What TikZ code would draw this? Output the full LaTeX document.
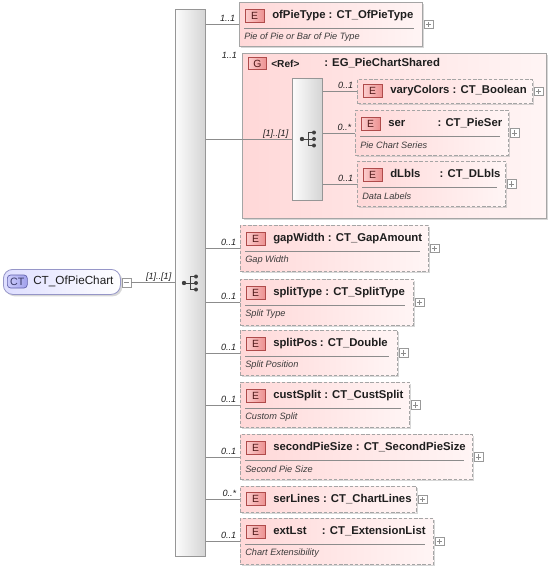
\documentclass[tikz,border=0pt]{standalone}
\usepackage{fontspec}
\setmainfont{Liberation Sans}
\usetikzlibrary{shadows}
\definecolor{pinkL}{RGB}{255,216,216}
\definecolor{pinkR}{RGB}{255,245,245}
\definecolor{boxgray}{RGB}{165,165,165}
\definecolor{barL}{RGB}{252,252,252}
\definecolor{barR}{RGB}{212,212,212}
\definecolor{bargray}{RGB}{150,150,150}
\definecolor{badgeL}{RGB}{252,205,205}
\definecolor{badgeR}{RGB}{236,145,145}
\definecolor{badgeD}{RGB}{175,75,75}
\definecolor{badgeT}{RGB}{80,25,25}
\definecolor{ctL}{RGB}{205,205,252}
\definecolor{ctR}{RGB}{160,160,235}
\definecolor{ctD}{RGB}{95,95,170}
\definecolor{rootL}{RGB}{222,222,255}
\definecolor{rootD}{RGB}{150,150,200}
\definecolor{conngray}{RGB}{140,140,140}
\definecolor{txt}{RGB}{30,30,30}
\definecolor{desctxt}{RGB}{60,60,60}
\tikzset{
  x=0.75pt, y=-0.75pt,
  shadowed/.style={drop shadow={shadow xshift=1.4pt, shadow yshift=-1.4pt, fill=black!35, opacity=0.45}},
  elembox/.style={draw=boxgray, line width=0.6pt, left color=pinkL, right color=pinkR, inner sep=0pt, shadowed},
  optional/.style={dash pattern=on 2.6pt off 1.3pt},
  groupbox/.style={draw=boxgray, line width=0.6pt, left color=pinkL, right color=pinkR, inner sep=0pt, shadowed},
  seqbar/.style={draw=bargray, line width=0.6pt, left color=barL, right color=barR, inner sep=0pt},
  badge/.style={draw=badgeD, line width=0.5pt, left color=badgeL, right color=badgeR, text=badgeT,
    font=\fontsize{7.8}{8}\selectfont, inner sep=0pt, minimum width=14pt, minimum height=9.75pt},
  ctbadge/.style={draw=ctD, line width=0.5pt, left color=ctL, right color=ctR, text=ctD!60!black,
    font=\fontsize{8}{9}\selectfont, inner sep=0pt, minimum width=15pt, minimum height=9.75pt, rounded corners=2.5pt},
  rootbox/.style={draw=rootD, line width=0.6pt, left color=rootL, right color=white, inner sep=0pt, rounded corners=7pt, shadowed},
  title/.style={font=\bfseries\fontsize{8.5}{9}\selectfont, text=txt, inner sep=0pt},
  desc/.style={font=\itshape\fontsize{6.9}{7}\selectfont, text=desctxt, inner sep=0pt},
  mult/.style={font=\itshape\fontsize{6.8}{7}\selectfont, text=txt, inner sep=0pt},
  divider/.style={draw=black!45, line width=0.5pt},
  conn/.style={draw=conngray, line width=0.6pt},
  plusbox/.style={draw=black!40, fill=white, line width=0.4pt, minimum size=6.5pt, inner sep=0pt},
  plussign/.style={draw=black!45, line width=0.4pt},
  seqicon/.style={draw=black!75, line width=0.6pt},
}
\newcommand\PlusAt[1]{%
  \node[plusbox] (#1-p) at ([xshift=4.3pt]#1.east) {};
  \draw[plussign] (#1-p.center) +(-2.6,0) -- +(2.6,0) (#1-p.center) +(0,-2.6) -- +(0,2.6);
}
% #1 id, #2 x1, #3 y1, #4 x2, #5 y2, #6 style, #7 title, #8 desc
\newcommand\ElemD[8]{%
  \node[elembox,#6,anchor=north west,minimum width={(#4-#2)*0.75pt},minimum height={(#5-#3)*0.75pt}] (#1) at (#2,#3) {};
  \node[badge,anchor=west] (#1-b) at (#2+6,#3+13.5) {E};
  \node[title,anchor=west] (#1-t) at (#2+33,#3+13.5) {#7};
  \draw[divider] (#2+5,#3+26) -- (#4-8,#3+26);
  \node[desc,anchor=west] (#1-d) at (#2+5,#3+35.5) {#8};
  \PlusAt{#1}
}
\newcommand\ElemN[7]{%
  \node[elembox,#6,anchor=north west,minimum width={(#4-#2)*0.75pt},minimum height={(#5-#3)*0.75pt}] (#1) at (#2,#3) {};
  \node[badge,anchor=west] (#1-b) at (#2+6,#3/2+#5/2) {E};
  \node[title,anchor=west] (#1-t) at (#2+33,#3/2+#5/2) {#7};
  \PlusAt{#1}
}
\newcommand\SeqIcon[2]{%
  \draw[seqicon] (#1,#2) +(-6,0) -- +(0,0) +(0,-6.5) -- +(0,6.5)
     +(0,-6.5) -- +(6,-6.5) +(0,0) -- +(6,0) +(0,6.5) -- +(6,6.5);
  \fill[black!75] (#1,#2) +(-6,0) circle (2.2) +(6,-6.5) circle (2) +(6,0) circle (2) +(6,6.5) circle (2);
}
\newcommand\MultLabel[2]{%
  \node[mult,anchor=base east] at ([xshift=-2.6pt,yshift=2pt]#1.west) {#2};
}
\begin{document}
\begin{tikzpicture}
\useasboundingbox (0,0) rectangle (552,569);

% root
\node[rootbox,anchor=north west,minimum width={117*0.75pt},minimum height={25*0.75pt}] (root) at (3,269) {};
\node[ctbadge,anchor=west] (root-b) at (7,281.5) {CT};
\node[anchor=west,inner sep=0pt,text=txt,font=\fontsize{8.8}{10}\selectfont] (root-t) at (33,281.5) {CT\_OfPieChart};
\node[plusbox] (root-p) at (126.5,282.5) {};
\draw[plussign] (root-p.center) +(-2.6,0) -- +(2.6,0);

% main sequence bar
\node[seqbar,anchor=north west,minimum width={30*0.75pt},minimum height={547*0.75pt}] (mainbar) at (175,9) {};
\SeqIcon{190}{283}
\draw[conn] (root-p.east) -- (root-p.east -| mainbar.west);
\node[mult,anchor=base east] at ([xshift=-2.6pt,yshift=2pt]root-p.east -| mainbar.west) {[1]..[1]};

% ofPieType
\ElemD{ofPieType}{239}{2}{422}{46}{}{ofPieType : CT\_OfPieType}{Pie of Pie or Bar of Pie Type}
\draw[conn] (ofPieType.west -| mainbar.east) -- (ofPieType.west);
\MultLabel{ofPieType}{1..1}

% group
\node[groupbox,anchor=north west,minimum width={304*0.75pt},minimum height={165*0.75pt}] (group) at (242,53) {};
\node[badge,anchor=west,minimum width=13.5pt,minimum height=9pt] (group-b) at (248,63.5) {G};
\node[title,anchor=west,font=\bfseries\fontsize{7.6}{9}\selectfont] (group-r) at (271,63.5) {<Ref>};
\node[title,anchor=west] (group-t) at (324,63.5) {: EG\_PieChartShared};
\node[mult,anchor=base east] at ([xshift=-3.6pt,yshift=-3.8pt]group.north west) {1..1};
\node[seqbar,anchor=north west,minimum width={30*0.75pt},minimum height={122*0.75pt}] (innerbar) at (292,78) {};
\SeqIcon{308}{139}
\draw[conn] (innerbar.west -| mainbar.east) -- (innerbar.west);
\MultLabel{innerbar}{[1]..[1]}

\ElemN{varyColors}{357}{79}{532}{103}{optional}{varyColors : CT\_Boolean}
\draw[conn] (varyColors.west -| innerbar.east) -- (varyColors.west);
\MultLabel{varyColors}{0..1}

\ElemD{ser}{355}{110}{508}{155}{optional}{\makebox[37pt][l]{ser}: CT\_PieSer}{Pie Chart Series}
\draw[conn] (ser.west -| innerbar.east) -- (ser.west);
\MultLabel{ser}{0..*}

\ElemD{dLbls}{357}{161}{505}{206}{optional}{\makebox[37pt][l]{dLbls}: CT\_DLbls}{Data Labels}
\draw[conn] (dLbls.west -| innerbar.east) -- (dLbls.west);
\MultLabel{dLbls}{0..1}

% remaining elements
\ElemD{gapWidth}{240}{225}{428}{271}{optional}{gapWidth : CT\_GapAmount}{Gap Width}
\draw[conn] (gapWidth.west -| mainbar.east) -- (gapWidth.west);
\MultLabel{gapWidth}{0..1}

\ElemD{splitType}{240}{279}{413}{325}{optional}{splitType : CT\_SplitType}{Split Type}
\draw[conn] (splitType.west -| mainbar.east) -- (splitType.west);
\MultLabel{splitType}{0..1}

\ElemD{splitPos}{240}{330}{397}{375}{optional}{\makebox[35pt][l]{splitPos}: CT\_Double}{Split Position}
\draw[conn] (splitPos.west -| mainbar.east) -- (splitPos.west);
\MultLabel{splitPos}{0..1}

\ElemD{custSplit}{240}{382}{409}{427}{optional}{custSplit : CT\_CustSplit}{Custom Split}
\draw[conn] (custSplit.west -| mainbar.east) -- (custSplit.west);
\MultLabel{custSplit}{0..1}

\ElemD{secondPieSize}{240}{434}{472}{479}{optional}{secondPieSize : CT\_SecondPieSize}{Second Pie Size}
\draw[conn] (secondPieSize.west -| mainbar.east) -- (secondPieSize.west);
\MultLabel{secondPieSize}{0..1}

\ElemN{serLines}{240}{486}{416}{512}{optional}{serLines : CT\_ChartLines}
\draw[conn] (serLines.west -| mainbar.east) -- (serLines.west);
\MultLabel{serLines}{0..*}

\ElemD{extLst}{240}{518}{433}{564}{optional}{\makebox[36.5pt][l]{extLst}: CT\_ExtensionList}{Chart Extensibility}
\draw[conn] (extLst.west -| mainbar.east) -- (extLst.west);
\MultLabel{extLst}{0..1}
\end{tikzpicture}
\end{document}
